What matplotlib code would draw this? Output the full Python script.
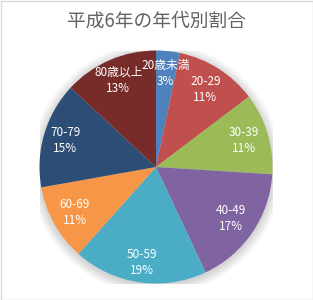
import matplotlib
matplotlib.use("Agg")
import matplotlib.pyplot as plt
import numpy as np
from matplotlib.patches import Circle, Rectangle

plt.rcParams['font.family'] = ['Noto Sans CJK JP', 'DejaVu Sans']

title = "平成6年の年代別割合"
categories = ["20歳未満", "20-29", "30-39", "40-49", "50-59", "60-69", "70-79", "80歳以上"]
shares = [3.3, 11.4, 11.3, 17.0, 18.6, 10.6, 14.7, 13.1]
colors = ["#4F81BD", "#C0504D", "#9BBB59", "#8064A2", "#4BACC6", "#F79646", "#2C4D75", "#772C2A"]

W, H = 313, 300
fig = plt.figure(figsize=(W / 100, H / 100), dpi=100)
fig.patch.set_facecolor("white")

cx, cy, r = 156, 167, 116.5
ax = fig.add_axes([(cx - r) / W, (H - cy - r) / H, 2 * r / W, 2 * r / H])
ax.set_xlim(-1, 1)
ax.set_ylim(-1, 1)
ax.set_aspect("equal")
ax.axis("off")

# soft shadow
for i in range(14):
    rr = 1.0 + 0.006 * (i + 1)
    ax.add_patch(Circle((0, -0.015), rr, facecolor="black", alpha=0.012, edgecolor="none", zorder=0))

wedges, _ = ax.pie(shares, colors=colors, startangle=90, counterclock=False,
                   radius=1.0, wedgeprops=dict(linewidth=0), frame=False)
for w in wedges:
    w.set_zorder(2)
ax.set_xlim(-1, 1)
ax.set_ylim(-1, 1)

total = sum(shares)
dists = [0.81, 0.79, 0.79, 0.78, 0.83, 0.80, 0.81, 0.81]
for w, cat, s, d in zip(wedges, categories, shares, dists):
    ang = np.deg2rad((w.theta1 + w.theta2) / 2)
    x, y = d * np.cos(ang), d * np.sin(ang)
    ax.text(x, y, f"{cat}\n{round(100 * s / total)}%", ha="center", va="center", color="white",
            fontsize=8.5, linespacing=1.3, zorder=5)

fig.text(0.5, 1 - 21.5 / H, title, ha="center", va="center", fontsize=13.5, color="#636363")

fig.add_artist(Rectangle((0.5 / W, 0.5 / H), 1 - 1 / W, 1 - 1 / H, transform=fig.transFigure,
                         facecolor="none", edgecolor="#D9D9D9", linewidth=1))

fig.savefig("out.png", dpi=100)
